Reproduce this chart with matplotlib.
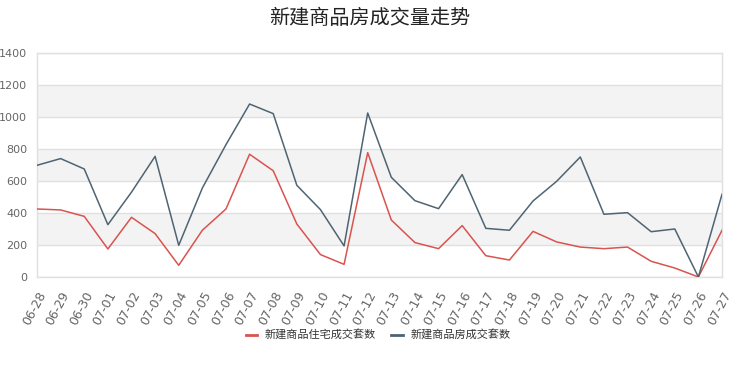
import matplotlib
matplotlib.use("Agg")
import matplotlib.pyplot as plt
from matplotlib.lines import Line2D

plt.rcParams['font.family'] = ['Noto Sans CJK SC', 'DejaVu Sans']

dates = ["06-28", "06-29", "06-30", "07-01", "07-02", "07-03", "07-04", "07-05", "07-06", "07-07",
         "07-08", "07-09", "07-10", "07-11", "07-12", "07-13", "07-14", "07-15", "07-16", "07-17",
         "07-18", "07-19", "07-20", "07-21", "07-22", "07-23", "07-24", "07-25", "07-26", "07-27"]
residential = [425, 419, 379, 175, 373, 271, 73, 292, 425, 767,
               664, 331, 140, 79, 777, 356, 215, 177, 321, 133,
               106, 285, 219, 187, 177, 187, 98, 56, 0, 292]
total = [698, 740, 675, 327, 530, 754, 198, 556, 827, 1081,
         1021, 573, 421, 194, 1025, 623, 477, 427, 640, 304,
         292, 475, 598, 750, 392, 402, 283, 300, 0, 517]
series_names = ["新建商品住宅成交套数", "新建商品房成交套数"]
title = "新建商品房成交量走势"

red = "#d9534f"
slate = "#4f6473"

fig = plt.figure(figsize=(7.4, 3.7), dpi=100)
ax = fig.add_axes([0.05, 0.2514, 0.9257, 0.6054])

x = list(range(len(dates)))
ax.set_xlim(0, len(dates) - 1)
ax.set_ylim(0, 1400)

# alternating bands
for lo in range(200, 1400, 400):
    ax.axhspan(lo, lo + 200, color="#f3f3f3", zorder=0, lw=0)
for yv in range(0, 1401, 200):
    ax.axhline(yv, color="#e0e0e0", lw=1, zorder=1)

ax.plot(x, residential, color=red, lw=1.1, zorder=3)
ax.plot(x, total, color=slate, lw=1.1, zorder=3)

ax.set_yticks(range(0, 1401, 200))
ax.set_yticklabels([str(v) for v in range(0, 1401, 200)], family="DejaVu Sans", fontsize=8)
ax.set_xticks(x)
ax.set_xticklabels(dates, rotation=62, ha="right", rotation_mode="anchor",
                   family="DejaVu Sans", fontsize=9)
ax.tick_params(axis="both", length=0, colors="#666666")
ax.tick_params(axis="x", pad=9)
ax.tick_params(axis="y", pad=7)
for s in ax.spines.values():
    s.set_color("#e0e0e0")
    s.set_linewidth(1)

fig.text(0.5, 0.95, title, ha="center", va="center", fontsize=14.5, color="#222222")

handles = [Line2D([], [], color=red, lw=2), Line2D([], [], color=slate, lw=2)]
fig.legend(handles, series_names, loc="center", bbox_to_anchor=(0.511, 0.0946), ncol=2,
           frameon=False, fontsize=8, handlelength=1.0, columnspacing=1.4,
           handletextpad=0.7, labelcolor="#333333")

fig.savefig("out.png", dpi=100)
